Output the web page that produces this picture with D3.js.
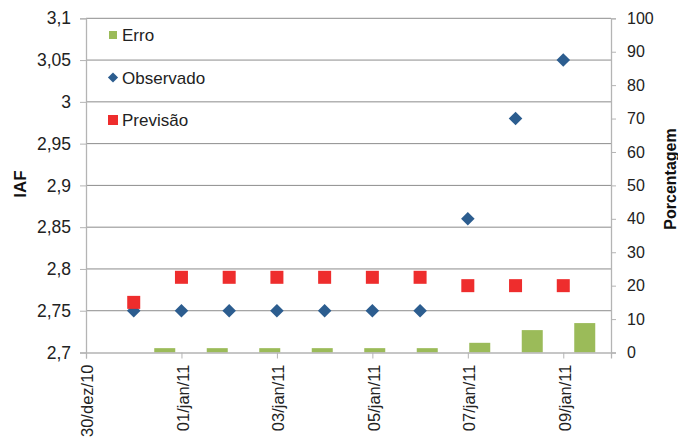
<!DOCTYPE html>
<meta charset="utf-8">
<script src="https://d3js.org/d3.v7.min.js"></script>
<style>
  body { margin: 0; background: #fff; }
  svg { font-family: "Liberation Sans", Arial, sans-serif; }
</style>
<svg id="chart" width="678" height="440"></svg>
<script>

  // data
  const dates = ["2010-12-31", "2011-01-01", "2011-01-02", "2011-01-03", "2011-01-04",
                 "2011-01-05", "2011-01-06", "2011-01-07", "2011-01-08", "2011-01-09"];
  const observado = [2.75, 2.75, 2.75, 2.75, 2.75, 2.75, 2.75, 2.86, 2.98, 3.05];
  const previsao = [2.76, 2.79, 2.79, 2.79, 2.79, 2.79, 2.79, 2.78, 2.78, 2.78];
  const erro = [0, 1.3, 1.3, 1.3, 1.3, 1.3, 1.3, 2.9, 6.7, 8.8];
  const xTickDates = ["2010-12-30", "2011-01-01", "2011-01-03", "2011-01-05", "2011-01-07", "2011-01-09"];
  const iafTicks = [2.7, 2.75, 2.8, 2.85, 2.9, 2.95, 3, 3.05, 3.1];
  const pctTicks = [0, 10, 20, 30, 40, 50, 60, 70, 80, 90, 100];
  const legendNames = ["Erro", "Observado", "Previsão"];
  const meses = ["jan", "fev", "mar", "abr", "mai", "jun", "jul", "ago", "set", "out", "nov", "dez"];

  const svg = d3.select("#chart");
  const plotL = 86, plotR = 611, plotT = 18.3, plotB = 352.5;

  const green = "#9BBB59", blue = "#2C5D8F", red = "#EE2D2D";
  const gridColor = "#8C8C8C", axisColor = "#B4B4B4";

  const parse = d3.utcParse("%Y-%m-%d");
  const fmt = d => d3.utcFormat("%d")(d) + "/" + meses[d.getUTCMonth()] + "/" + d3.utcFormat("%y")(d);

  const x = d3.scaleUtc()
    .domain([parse("2010-12-30"), parse("2011-01-10")])
    .range([plotL, plotR]);

  // bars sit on their own category axis
  const xb = d3.scaleBand()
    .domain(d3.range(erro.length))
    .range([plotL, plotR])
    .paddingInner(0.6)
    .paddingOuter(0.3);

  const y = d3.scaleLinear().domain([2.7, 3.1]).range([plotB, plotT]);
  const y2 = d3.scaleLinear().domain([0, 100]).range([plotB, plotT]);

  // gridlines
  svg.append("g")
    .selectAll("line")
    .data(iafTicks.slice(1))
    .join("line")
      .attr("x1", plotL).attr("x2", plotR)
      .attr("y1", d => y(d)).attr("y2", d => y(d))
      .attr("stroke", gridColor)
      .attr("stroke-width", 1);

  // Erro bars
  svg.append("g")
    .selectAll("rect")
    .data(erro)
    .join("rect")
      .attr("x", (d, i) => xb(i))
      .attr("width", xb.bandwidth())
      .attr("y", d => y2(d))
      .attr("height", d => plotB - y2(d))
      .attr("fill", green);

  // left axis
  const yAxis = svg.append("g")
    .attr("transform", `translate(${plotL},0)`)
    .call(d3.axisLeft(y).tickValues(iafTicks).tickSize(6).tickPadding(9)
      .tickFormat(d => String(d).replace(".", ",")));

  // right axis
  const y2Axis = svg.append("g")
    .attr("transform", `translate(${plotR},0)`)
    .call(d3.axisRight(y2).tickValues(pctTicks).tickSize(5).tickPadding(11));

  // bottom axis
  const xAxis = svg.append("g")
    .attr("transform", `translate(0,${plotB})`)
    .call(d3.axisBottom(x).tickValues(xTickDates.map(parse)).tickSize(6).tickFormat(fmt));

  xAxis.selectAll("text")
    .attr("transform", "rotate(-90)")
    .attr("text-anchor", "end")
    .attr("x", -12)
    .attr("y", 0)
    .attr("dy", "0.42em")
    .style("font-size", "16.5px");

  yAxis.selectAll("text").style("font-size", "17.5px");
  y2Axis.selectAll("text").style("font-size", "16px");

  [xAxis, yAxis, y2Axis].forEach(a => {
    a.select(".domain").attr("stroke", axisColor).attr("stroke-width", 1.3);
    a.selectAll(".tick line").attr("stroke", axisColor);
    a.selectAll("text").attr("fill", "#222");
  });

  // Observado diamonds
  const diamond = d3.symbol().type(d3.symbolSquare).size(92);
  svg.append("g")
    .selectAll("path")
    .data(observado)
    .join("path")
      .attr("d", diamond)
      .attr("transform", (d, i) => `translate(${x(parse(dates[i]))},${y(d)}) rotate(45)`)
      .attr("fill", blue);

  // Previsão squares
  svg.append("g")
    .selectAll("rect")
    .data(previsao)
    .join("rect")
      .attr("x", (d, i) => x(parse(dates[i])) - 6.5)
      .attr("y", d => y(d) - 6.5)
      .attr("width", 13)
      .attr("height", 13)
      .attr("fill", red);

  // axis titles
  svg.append("text")
    .attr("transform", "translate(26,184) rotate(-90)")
    .attr("text-anchor", "middle")
    .style("font-size", "17px")
    .style("font-weight", "bold")
    .attr("fill", "#111")
    .text("IAF");

  svg.append("text")
    .attr("transform", "translate(676,179) rotate(-90)")
    .attr("text-anchor", "middle")
    .style("font-size", "16px")
    .style("font-weight", "bold")
    .attr("fill", "#111")
    .text("Porcentagem");

  // legend
  const legendColors = [green, blue, red];
  const leg = svg.append("g")
    .selectAll("g")
    .data(legendNames)
    .join("g")
      .attr("transform", (d, i) => `translate(113,${35 + i * 42.5})`);

  leg.each(function (d, i) {
    const g = d3.select(this);
    if (i === 0) {
      g.append("rect").attr("x", -4).attr("y", -4).attr("width", 8).attr("height", 8).attr("fill", legendColors[i]);
    } else if (i === 1) {
      g.append("path").attr("d", d3.symbol().type(d3.symbolSquare).size(52))
        .attr("transform", "rotate(45)").attr("fill", legendColors[i]);
    } else {
      g.append("rect").attr("x", -5).attr("y", -5).attr("width", 10).attr("height", 10).attr("fill", legendColors[i]);
    }
    g.append("text")
      .attr("x", 9)
      .attr("dy", "0.36em")
      .style("font-size", "17px")
      .attr("fill", "#222")
      .text(d);
  });

</script>
